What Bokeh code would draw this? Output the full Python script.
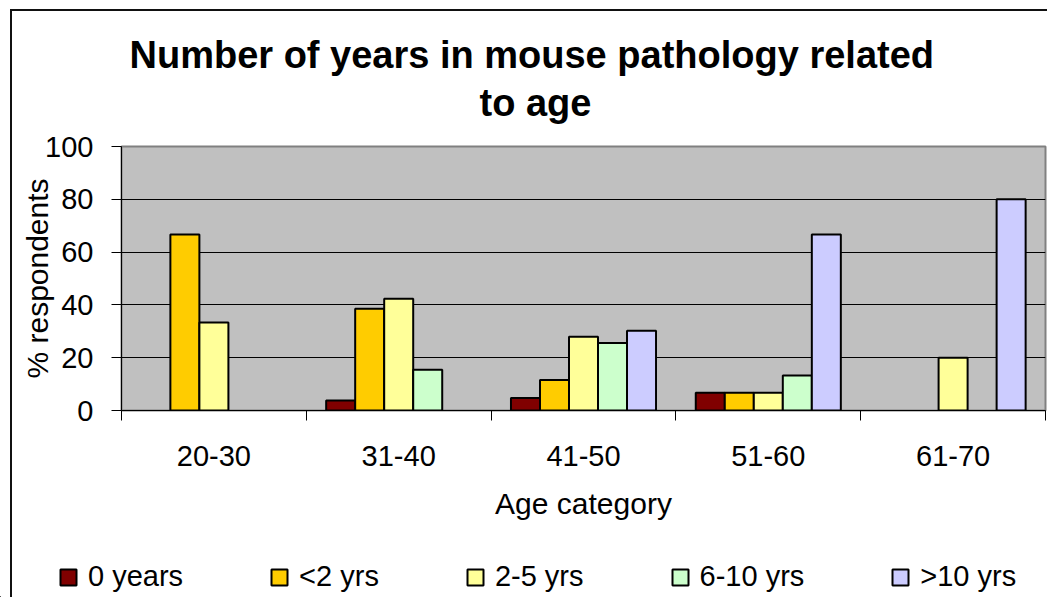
import numpy as np
from bokeh.plotting import figure
from bokeh.layouts import column, row
from bokeh.models import Range1d, FixedTicker, Title, Legend, LegendItem
from bokeh.embed import file_html
from bokeh.resources import INLINE

# ---- data ----
categories = ["20-30", "31-40", "41-50", "51-60", "61-70"]
series_names = ["0 years", "<2 yrs", "2-5 yrs", "6-10 yrs", ">10 yrs"]
zero_years = [0, 3.8, 4.7, 6.7, 0]
under_2_yrs = [66.7, 38.5, 11.6, 6.7, 0]
yrs_2_5 = [33.3, 42.3, 27.9, 6.7, 20.0]
yrs_6_10 = [0, 15.4, 25.6, 13.3, 0]
over_10_yrs = [0, 0, 30.2, 66.7, 80.0]
y_ticks = [0, 20, 40, 60, 80, 100]
colors = ["#800000", "#FFCC00", "#FFFF99", "#CCFFCC", "#CCCCFF"]

series_values = [zero_years, under_2_yrs, yrs_2_5, yrs_6_10, over_10_yrs]

FONT = "Liberation Sans"
W = 1047
H_MAIN, H_LEG = 545, 52
FRAME_TOP = 146
FRAME_H = 264

p = figure(width=W, height=H_MAIN, x_range=Range1d(0, len(categories)),
           y_range=Range1d(y_ticks[0], y_ticks[-1]),
           output_backend="svg", toolbar_location=None,
           min_border_left=121, min_border_right=2,
           min_border_top=FRAME_TOP, min_border_bottom=H_MAIN - FRAME_TOP - FRAME_H,
           background_fill_color="#C0C0C0", border_fill_color=None,
           outline_line_color="#808080", outline_line_width=2,
           x_axis_label="Age category", y_axis_label="% respondents")

# chart-area border (top and left edges) drawn behind the transparent canvas
p.styles = {
    "background-color": "white",
    "background-image": "linear-gradient(#111,#111), linear-gradient(#111,#111)",
    "background-size": "2px 100%, 100% 2px",
    "background-position": "10px 9px, 10px 9px",
    "background-repeat": "no-repeat",
}

# titles (p.title is the upper line; the added one sits next to the frame)
p.title.text = "Number of years in mouse pathology related"
p.title.align = "left"
p.title.offset = 8
p.title.standoff = -38
p.title.text_font = FONT
p.title.text_font_size = "38px"
p.title.text_font_style = "bold"
p.title.text_color = "black"
t2 = Title(text="to age", align="left", offset=358, standoff=46,
           text_font=FONT, text_font_size="38px",
           text_font_style="bold", text_color="black")
p.add_layout(t2, "above")

# bars
n = len(series_names)
bw = 0.157
centers = np.arange(len(categories)) + 0.5
for i, (vals, col) in enumerate(zip(series_values, colors)):
    xs = centers + (i - (n - 1) / 2) * bw
    v = np.asarray(vals, dtype=float)
    tops = np.where(v > 0, v, np.nan)
    p.vbar(x=xs, top=tops, width=bw, bottom=0, fill_color=col,
           line_color="black", line_width=2)

# x axis: labels at centres, tick marks at category boundaries
p.xaxis.ticker = FixedTicker(ticks=[float(c) for c in centers],
                             minor_ticks=list(range(len(categories) + 1)))
p.xaxis.major_label_overrides = {float(c): lab for c, lab in zip(centers, categories)}
p.xaxis.major_tick_line_color = None
p.xaxis.major_tick_out = 10
p.xaxis.major_tick_in = 0
p.xaxis.minor_tick_out = 10
p.xaxis.minor_tick_in = 0
p.xaxis.minor_tick_line_color = "black"
p.xaxis.major_label_standoff = 25
p.xaxis.axis_label_standoff = 18

# y axis
p.yaxis.ticker = FixedTicker(ticks=y_ticks)
p.yaxis.major_tick_out = 10
p.yaxis.major_tick_in = 0
p.yaxis.minor_tick_line_color = None
p.yaxis.major_label_standoff = 18
p.yaxis.axis_label_standoff = -12

for ax in (p.xaxis[0], p.yaxis[0]):
    ax.axis_line_color = "black"
    ax.major_label_text_font = FONT
    ax.major_label_text_font_size = "29px"
    ax.major_label_text_color = "black"
    ax.axis_label_text_font = FONT
    ax.axis_label_text_font_size = "30px"
    ax.axis_label_text_font_style = "normal"
    ax.axis_label_text_color = "black"

# grid
p.xgrid.grid_line_color = None
p.ygrid.ticker = FixedTicker(ticks=y_ticks[1:-1])
p.ygrid.grid_line_color = "black"
p.ygrid.grid_line_width = 1

# ---- legend strip (separate figure so nothing is clipped) ----
pl = figure(width=W, height=H_LEG, x_range=Range1d(0, 1), y_range=Range1d(0, 1),
            output_backend="svg", toolbar_location=None,
            x_axis_type=None, y_axis_type=None,
            min_border=0, min_border_left=0, min_border_right=0,
            min_border_top=0, min_border_bottom=0,
            outline_line_color=None, background_fill_color=None,
            border_fill_color=None)
pl.styles = {
    "background-color": "white",
    "background-image": "linear-gradient(#111,#111)",
    "background-size": "2px 100%",
    "background-position": "10px 0px",
    "background-repeat": "no-repeat",
}
items = []
for nm, col in zip(series_names, colors):
    # legend-only renderer: one bar placed outside the visible range
    r = pl.vbar(x=[-10.0], top=[-10.0], bottom=[-11.0], width=0.1, fill_color=col,
                line_color="black", line_width=2)
    items.append(LegendItem(label=nm, renderers=[r]))
legend = Legend(items=items, orientation="horizontal", location=(58, 4),
                glyph_width=20, glyph_height=20, label_standoff=10, spacing=86,
                padding=0, margin=0, border_line_color=None, background_fill_alpha=0,
                label_text_font=FONT, label_text_font_size="29px", label_text_color="black")
pl.add_layout(legend)

layout = column(p, row(pl, spacing=0), spacing=0)
open("out.html", "w").write(file_html(layout, INLINE))
